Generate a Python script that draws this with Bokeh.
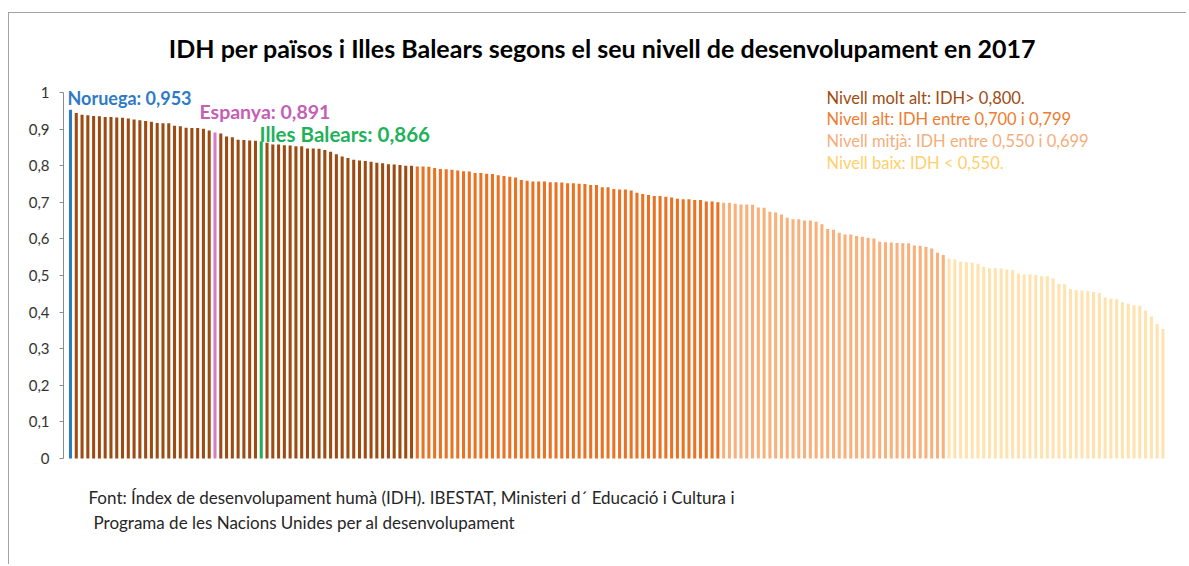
from bokeh.plotting import figure
from bokeh.models import Label, FixedTicker, CustomJSTickFormatter, Range1d
from bokeh.embed import file_html
from bokeh.resources import INLINE

# ---------------- data ----------------
title_text = "IDH per països i Illes Balears segons el seu nivell de desenvolupament en 2017"

very_high = [0.953, 0.944, 0.939, 0.938, 0.936, 0.935, 0.933, 0.933, 0.932, 0.931,
             0.929, 0.926, 0.924, 0.922, 0.920, 0.917, 0.916, 0.916, 0.909, 0.908,
             0.904, 0.903, 0.903, 0.901, 0.896, 0.891, 0.888, 0.880, 0.878, 0.871,
             0.870, 0.869, 0.868, 0.866, 0.863, 0.858, 0.858, 0.856, 0.855, 0.853,
             0.853, 0.847, 0.847, 0.846, 0.843, 0.838, 0.831, 0.825, 0.821, 0.816,
             0.814, 0.813, 0.811, 0.808, 0.807, 0.804, 0.803, 0.802, 0.800, 0.800]
high = [0.798, 0.798, 0.797, 0.794, 0.791, 0.790, 0.789, 0.787, 0.785, 0.784,
        0.780, 0.780, 0.778, 0.777, 0.774, 0.772, 0.770, 0.768, 0.761, 0.759,
        0.757, 0.757, 0.757, 0.755, 0.755, 0.754, 0.752, 0.752, 0.751, 0.750,
        0.747, 0.747, 0.741, 0.741, 0.736, 0.735, 0.735, 0.732, 0.726, 0.723,
        0.720, 0.717, 0.717, 0.715, 0.713, 0.710, 0.708, 0.708, 0.706, 0.706,
        0.702, 0.702, 0.700]
medium = [0.699, 0.699, 0.696, 0.694, 0.694, 0.693, 0.686, 0.685, 0.674, 0.672,
          0.667, 0.658, 0.654, 0.654, 0.650, 0.650, 0.647, 0.640, 0.627, 0.625,
          0.617, 0.612, 0.612, 0.608, 0.606, 0.603, 0.601, 0.592, 0.591, 0.590,
          0.589, 0.588, 0.588, 0.582, 0.581, 0.578, 0.574, 0.562, 0.556]
low = [0.546, 0.544, 0.538, 0.536, 0.535, 0.532, 0.524, 0.520, 0.520, 0.519,
       0.516, 0.515, 0.505, 0.503, 0.503, 0.502, 0.498, 0.498, 0.492, 0.477,
       0.476, 0.463, 0.460, 0.459, 0.457, 0.455, 0.452, 0.440, 0.437, 0.435,
       0.427, 0.423, 0.419, 0.417, 0.404, 0.388, 0.367, 0.354]

level_colors = ["#9E4B12", "#EA7222", "#F9B07A", "#FFE2AE"]
level_text_colors = ["#9E4B12", "#ED7D31", "#F4AE7C", "#FFCF6A"]
legend_texts = ["Nivell molt alt: IDH> 0,800.",
                "Nivell  alt: IDH entre 0,700 i 0,799",
                "Nivell mitjà:  IDH entre 0,550  i  0,699",
                "Nivell baix: IDH < 0,550."]

highlight_names = ["Noruega", "Espanya", "Illes Balears"]
highlight_values = [0.953, 0.891, 0.866]
highlight_bar_colors = ["#2E7BC4", "#D77BC7", "#1DB055"]
highlight_text_colors = ["#2E7BC4", "#C460B4", "#1FB25A"]

y_ticks = [0, 0.1, 0.2, 0.3, 0.4, 0.5, 0.6, 0.7, 0.8, 0.9, 1.0]

footer_lines = ["Font: Índex de desenvolupament humà (IDH). IBESTAT,  Ministeri d´ Educació i Cultura i",
                "Programa de les Nacions Unides per al desenvolupament"]

# ---------------- build ----------------
levels = [very_high, high, medium, low]
values, colors = [], []
for lv, col in zip(levels, level_colors):
    values += lv
    colors += [col] * len(lv)
for v, c in zip(highlight_values, highlight_bar_colors):
    colors[values.index(v)] = c
idx = list(range(len(values)))

# page-pixel layout constants
W, H = 1178, 552
BORDER_X, BORDER_Y = 8, 12          # chart border (page px)
PAGE_X, PAGE_Y = BORDER_X + 1, BORDER_Y + 1   # canvas origin
AXIS_PX = 63            # y axis line (page x)
X0, PITCH = 70.0, 5.78  # first bar centre, bar spacing
Y0, UNIT = 458.0, 366.0  # value 0 line, px per unit

def dx(px):
    return (px - X0) / PITCH

def dy(py):
    return (Y0 - py) / UNIT

p = figure(width=W, height=H, output_backend="svg", toolbar_location=None,
           x_axis_location=None,
           x_range=Range1d(dx(AXIS_PX), dx(PAGE_X + W)),
           y_range=Range1d(dy(PAGE_Y + H), dy(PAGE_Y)),
           min_border_left=AXIS_PX - PAGE_X, min_border_right=0,
           min_border_top=0, min_border_bottom=0)
p.margin = (BORDER_Y, 0, 0, BORDER_X)
p.styles = {"border-top": "1px solid #A3A3A3", "border-left": "1px solid #A3A3A3"}
p.outline_line_color = None
p.grid.visible = False
p.background_fill_color = "white"
p.border_fill_color = "white"

p.vbar(x=idx, top=values, width=0.53, fill_color=colors, line_color=None)

ax = p.yaxis[0]
ax.ticker = FixedTicker(ticks=y_ticks)
ax.formatter = CustomJSTickFormatter(code="""
    if (Math.abs(tick) < 1e-9) return '0';
    if (Math.abs(tick - 1) < 1e-9) return '1';
    return tick.toFixed(1).replace('.', ',');
""")
ax.bounds = (0, 1)
ax.axis_line_color = "#8C8C8C"
ax.major_tick_line_color = "#8C8C8C"
ax.major_tick_in = 0
ax.major_tick_out = 4
ax.minor_tick_line_color = None
ax.major_label_standoff = 10
ax.major_label_text_font = "Lato"
ax.major_label_text_font_size = "15px"
ax.major_label_text_color = "#333333"

def add_text(text, px, py, size, color, bold=False, align="left"):
    p.add_layout(Label(x=dx(px), y=dy(py), text=text, text_font="Lato",
                       text_font_size=size, text_color=color,
                       text_font_style="bold" if bold else "normal",
                       text_align=align, text_baseline="middle"))

add_text(title_text, 602, 47, "25px", "#000000", bold=True, align="center")

hl_pos = [(67, 97), (199, 111), (259, 133)]
hl_sizes = ["18px", "19.5px", "20.5px"]
for name, v, c, (px, py), s in zip(highlight_names, highlight_values, highlight_text_colors, hl_pos, hl_sizes):
    add_text(f"{name}: {v:.3f}".replace(".", ","), px, py, s, c, bold=True)

for t, c, py in zip(legend_texts, level_text_colors, [97, 118, 140, 162]):
    add_text(t, 826, py, "16.5px", c)

for t, (px, py) in zip(footer_lines, [(88, 497), (93, 522)]):
    add_text(t, px, py, "17px", "#262626")

open("out.html", "w").write(file_html(p, INLINE))
